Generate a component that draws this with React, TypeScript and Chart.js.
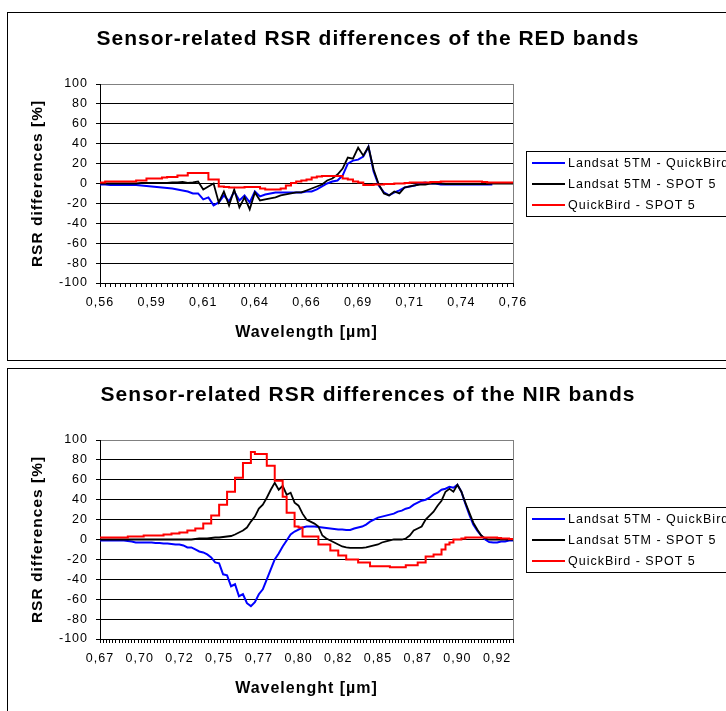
import React, { useEffect, useRef } from 'react';
import { Chart, registerables } from 'chart.js';

Chart.register(...registerables);

const FONT = "'Liberation Sans', Arial, Helvetica, sans-serif";

const SERIES_NAMES = ['Landsat 5TM - QuickBird', 'Landsat 5TM - SPOT 5', 'QuickBird - SPOT 5'];
const SERIES_COLORS = ['#0000FF', '#000000', '#FF0000'];
const Y_TITLE = 'RSR differences [%]';

// ---------------- RED bands ----------------
const RED_TITLE = 'Sensor-related RSR differences of the RED bands';
const RED_X_TITLE = 'Wavelength [µm]';
const RED_TICK_LABELS = ['0,56', '0,59', '0,61', '0,64', '0,66', '0,69', '0,71', '0,74', '0,76'];
const RED_WAVELENGTHS = [
  0.5600, 0.5625, 0.5650, 0.5675, 0.5700, 0.5725, 0.5750, 0.5775, 0.5800, 0.5825,
  0.5850, 0.5875, 0.5900, 0.5925, 0.5950, 0.5975, 0.6000, 0.6025, 0.6050, 0.6075,
  0.6100, 0.6125, 0.6150, 0.6175, 0.6200, 0.6225, 0.6250, 0.6275, 0.6300, 0.6325,
  0.6350, 0.6375, 0.6400, 0.6425, 0.6450, 0.6475, 0.6500, 0.6525, 0.6550, 0.6575,
  0.6600, 0.6625, 0.6650, 0.6675, 0.6700, 0.6725, 0.6750, 0.6775, 0.6800, 0.6825,
  0.6850, 0.6875, 0.6900, 0.6925, 0.6950, 0.6975, 0.7000, 0.7025, 0.7050, 0.7075,
  0.7100, 0.7125, 0.7150, 0.7175, 0.7200, 0.7225, 0.7250, 0.7275, 0.7300, 0.7325,
  0.7350, 0.7375, 0.7400, 0.7425, 0.7450, 0.7475, 0.7500, 0.7525, 0.7550, 0.7575,
  0.7600,
];
const RED_L5_QB = [
  -1, -1, -1.5, -1.5, -1.5, -1.5, -1.5, -1.5, -2, -2.5,
  -3, -3.5, -4, -4.5, -5, -6, -7, -8, -10, -10,
  -16, -14, -22, -19, -12, -18, -8, -17, -12, -19,
  -8, -13, -11, -10, -9, -9, -9, -9, -9, -9,
  -8, -8, -6, -3, 0, 2, 3, 8, 20, 23,
  24, 27, 37, 12, -2, -9, -12, -9, -7, -4,
  -3, -2, 0, 1, 0, 0, -1, -1, -1, -1,
  -1, -1, -1, -1, -1, -1, -1, null, null, null,
  null,
];
const RED_L5_SPOT = [
  0, 0, 0, 0, 0, 0, 0, 0, 0.5, 0.5,
  0.5, 0.5, 0.5, 0.5, 1, 1, 1.5, 0.5, 1, 2,
  -6, -3, 0, -19, -8, -22, -6, -24, -14, -26,
  -9, -17, -16, -15, -14, -12, -11, -10, -9, -9,
  -7, -5, -3, -1, 3, 5, 9, 15, 26, 25,
  36, 28, 37, 14, -1, -10, -12, -8, -10, -4,
  -3, -2, -1, -1, 0, 0, 0, -0.5, -0.5, -0.5,
  -0.5, -0.5, -0.5, -0.5, -0.5, -0.5, 0, 0, 0, 0,
  0,
];
const RED_QB_SPOT = [
  1, 1, 2, 2, 2, 2, 2, 2, 3, 3,
  5, 5, 5, 6, 6.5, 6.5, 8, 8, 10.5, 10.5,
  10.5, 10.5, 4, 4, -3, -3.5, -4, -4, -4, -3.5,
  -3.5, -3.5, -5, -6, -6, -6, -5, -2, 0.5, 2,
  3, 4, 6, 7, 7.5, 7.5, 7.5, 7.5, 5, 4,
  2, 1, -1.5, -1.5, -1, -1, -0.5, -0.5, 0, 0,
  0.5, 1, 1, 1, 1, 1.5, 1.5, 2, 2, 2,
  2, 2, 2, 2, 2, 1.5, 1, 1, 1, 1,
  1,
];

// ---------------- NIR bands ----------------
const NIR_TITLE = 'Sensor-related RSR differences of the NIR bands';
const NIR_X_TITLE = 'Wavelenght [µm]';
const NIR_TICK_LABELS = ['0,67', '0,70', '0,72', '0,75', '0,77', '0,80', '0,82', '0,85', '0,87', '0,90', '0,92'];
const NIR_WAVELENGTHS = [
  0.6700, 0.6725, 0.6750, 0.6775, 0.6800, 0.6825, 0.6850, 0.6875, 0.6900, 0.6925,
  0.6950, 0.6975, 0.7000, 0.7025, 0.7050, 0.7075, 0.7100, 0.7125, 0.7150, 0.7175,
  0.7200, 0.7225, 0.7250, 0.7275, 0.7300, 0.7325, 0.7350, 0.7375, 0.7400, 0.7425,
  0.7450, 0.7475, 0.7500, 0.7525, 0.7550, 0.7575, 0.7600, 0.7625, 0.7650, 0.7675,
  0.7700, 0.7725, 0.7750, 0.7775, 0.7800, 0.7825, 0.7850, 0.7875, 0.7900, 0.7925,
  0.7950, 0.7975, 0.8000, 0.8025, 0.8050, 0.8075, 0.8100, 0.8125, 0.8150, 0.8175,
  0.8200, 0.8225, 0.8250, 0.8275, 0.8300, 0.8325, 0.8350, 0.8375, 0.8400, 0.8425,
  0.8450, 0.8475, 0.8500, 0.8525, 0.8550, 0.8575, 0.8600, 0.8625, 0.8650, 0.8675,
  0.8700, 0.8725, 0.8750, 0.8775, 0.8800, 0.8825, 0.8850, 0.8875, 0.8900, 0.8925,
  0.8950, 0.8975, 0.9000, 0.9025, 0.9050, 0.9075, 0.9100, 0.9125, 0.9150, 0.9175,
  0.9200, 0.9225, 0.9250, 0.9275, 0.9300,
];
const NIR_L5_QB = [
  -1, -1, -1, -1, -1, -1, -1, -1.5, -2, -3,
  -3, -3, -3, -3, -3.5, -3.5, -4, -4, -4.5, -5,
  -5, -6, -8, -8, -10, -12, -13, -15, -18, -23,
  -24, -35, -36, -47, -45, -57, -55, -64, -67, -63,
  -55, -50, -40, -30, -20, -14, -7, -1, 5, 8,
  10, 12, 13, 13, 13, 12.5, 12, 11.5, 11, 10.5,
  10, 10, 9.5, 9.5, 11, 12, 13, 15, 18, 20,
  22, 23, 24, 25, 26, 28, 29, 31, 32, 35,
  37, 39, 40, 42, 45, 47, 50, 51, 53, 52,
  55, 48, 36, 25, 15, 9, 4, 0, -2.5, -3,
  -3, -2, -2, -1, -1,
];
const NIR_L5_SPOT = [
  0, 0, 0, 0, 0, 0, 0, 0, 0, 0,
  0, 0, 0, 0, 0, 0, 0, 0, 0, 0,
  0, 0, 0, 0, 0.5, 1, 1, 1, 1.5, 2,
  2, 2.5, 3, 3.5, 5, 7, 9, 12, 18, 23,
  31, 35, 42, 50, 57, 50, 54, 45, 47, 37,
  34, 26, 20, 18, 16, 13, 4, 1, -1, -3,
  -5, -7, -8, -8.5, -8.5, -8.5, -8.5, -8, -7, -6,
  -5, -3, -2, -1, 0, 0, 0, 1, 4, 9,
  11, 13, 20, 24, 28, 34, 39, 48, 51, 48,
  55, 48, 37, 27, 17, 10, 4, 1, 0, 0,
  0, 0, 0, 0, 0,
];
const NIR_QB_SPOT = [
  2, 2, 2, 2, 2, 2, 2, 2, 3, 3,
  3, 3, 4, 4, 4, 4, 4, 5, 5, 6,
  6, 7, 7, 9, 9, 11, 11, 16, 16, 24,
  24, 35, 35, 48, 48, 62, 62, 77, 77, 88,
  86, 86, 86, 74, 74, 59, 59, 43, 27, 27,
  13, 12, 3, 3, 3, 3, -5, -5, -5, -11,
  -11, -16, -16, -20, -20, -20, -23, -23, -23, -27,
  -27, -27, -27, -27, -28, -28, -28, -28, -26, -26,
  -26, -23, -23, -17, -17, -15, -15, -10, -5, -3,
  0, 0, 1, 2, 2, 2, 2, 2, 2, 2,
  2, 1.5, 1, 1, 0.5,
];

// Axis tick construction (units of 1e-4 µm): minor tick marks plus labelled positions
function makeTicks(minU: number, maxU: number, minorU: number, labelU: number, labels: string[]) {
  const map = new Map<number, { mark: boolean; text: string }>();
  for (let u = minU; u <= maxU; u += minorU) map.set(u, { mark: true, text: '' });
  labels.forEach((t, k) => {
    const u = minU + k * labelU;
    const e = map.get(u);
    if (e) e.text = t;
    else map.set(u, { mark: false, text: t });
  });
  return [...map.keys()].sort((a, b) => a - b).map((u) => ({ value: u / 10000, ...map.get(u)! }));
}

type Cfg = {
  title: string;
  xTitle: string;
  wavelengths: number[];
  series: (number | null)[][];
  xMin: number;
  xMax: number;
  ticks: { value: number; mark: boolean; text: string }[];
};

const RED_CFG: Cfg = {
  title: RED_TITLE,
  xTitle: RED_X_TITLE,
  wavelengths: RED_WAVELENGTHS,
  series: [RED_L5_QB, RED_L5_SPOT, RED_QB_SPOT],
  xMin: 0.56,
  xMax: 0.76,
  ticks: makeTicks(5600, 7600, 25, 250, RED_TICK_LABELS),
};

const NIR_CFG: Cfg = {
  title: NIR_TITLE,
  xTitle: NIR_X_TITLE,
  wavelengths: NIR_WAVELENGTHS,
  series: [NIR_L5_QB, NIR_L5_SPOT, NIR_QB_SPOT],
  xMin: 0.67,
  xMax: 0.93,
  ticks: makeTicks(6700, 9300, 20, 250, NIR_TICK_LABELS),
};

const decorPlugin = {
  id: 'excelDecor',
  beforeUpdate(chart: any) {
    chart.ctx.letterSpacing = '1px';
  },
  beforeDraw(chart: any) {
    const { ctx, width, height } = chart;
    ctx.letterSpacing = '1px';
    ctx.save();
    ctx.fillStyle = '#ffffff';
    ctx.fillRect(0, 0, width, height);
    ctx.restore();
  },
  afterDraw(chart: any) {
    const { ctx, chartArea } = chart;
    const cy = Math.round((chartArea.top + chartArea.bottom) / 2);
    const left = Math.round(chartArea.right + 13);
    ctx.save();
    ctx.letterSpacing = '1px';
    ctx.strokeStyle = '#000';
    ctx.lineWidth = 1;
    ctx.strokeRect(left + 0.5, cy - 32.5, 320, 65);
    chart.data.datasets.forEach((ds: any, i: number) => {
      const y = cy + (i - 1) * 21;
      ctx.strokeStyle = ds.borderColor;
      ctx.lineWidth = 2;
      ctx.beginPath();
      ctx.moveTo(left + 6, y);
      ctx.lineTo(left + 39, y);
      ctx.stroke();
      ctx.fillStyle = '#000';
      ctx.font = `12.5px ${FONT}`;
      ctx.textAlign = 'left';
      ctx.textBaseline = 'middle';
      ctx.fillText(ds.label, left + 42, y + 0.5);
    });
    ctx.restore();
  },
};

function makeConfig(p: Cfg): any {
  const orders = [3, 2, 1];
  const datasets = p.series.map((vals, si) => ({
    label: SERIES_NAMES[si],
    data: p.wavelengths.map((w, i) => ({ x: w, y: vals[i] })),
    borderColor: SERIES_COLORS[si],
    backgroundColor: SERIES_COLORS[si],
    borderWidth: si === 1 ? 1.8 : 2,
    pointRadius: 0,
    pointHoverRadius: 0,
    tension: 0,
    fill: false,
    stepped: si === 2 ? 'after' : false,
    order: orders[si],
    xAxisID: 'x',
    yAxisID: 'y',
  }));
  const tickFont = { family: FONT, size: 12.5 };
  return {
    type: 'line',
    data: { datasets },
    plugins: [decorPlugin],
    options: {
      responsive: false,
      animation: false,
      events: [],
      layout: { padding: { left: 0, right: 20, top: 0, bottom: 0 } },
      plugins: {
        legend: { display: false },
        tooltip: { enabled: false },
        title: {
          display: true,
          text: p.title,
          color: '#000',
          font: { family: FONT, size: 21, weight: 'bold', lineHeight: '24px' },
          padding: { top: 14, bottom: 33 },
        },
      },
      scales: {
        x: {
          type: 'linear',
          position: 'bottom',
          min: p.xMin,
          max: p.xMax,
          afterBuildTicks: (s: any) => {
            s.ticks = p.ticks.map((t) => ({ ...t }));
          },
          afterFit: (s: any) => {
            s.height = 77;
          },
          grid: {
            drawOnChartArea: true,
            drawTicks: true,
            tickLength: 4,
            lineWidth: 1,
            color: (c: any) =>
              c.tick && Math.abs(c.tick.value - p.xMax) < 1e-9 ? '#808080' : 'rgba(0,0,0,0)',
            tickColor: (c: any) => (c.tick && c.tick.mark ? '#000' : 'rgba(0,0,0,0)'),
          },
          border: { display: true, color: '#000', width: 1 },
          ticks: {
            autoSkip: false,
            maxRotation: 0,
            minRotation: 0,
            padding: 8,
            color: '#000',
            font: tickFont,
            callback: (_v: any, i: number, ts: any[]) => (ts[i] && ts[i].text) || '',
          },
          title: {
            display: true,
            text: p.xTitle,
            color: '#000',
            font: { family: FONT, size: 16, weight: 'bold' },
            padding: { top: 0, bottom: 18 },
          },
        },
        y: {
          type: 'linear',
          position: 'left',
          min: -100,
          max: 100,
          afterFit: (s: any) => {
            s.width = 92;
          },
          grid: {
            drawOnChartArea: true,
            tickLength: 4,
            lineWidth: 1,
            color: (c: any) => (c.tick && c.tick.value === 100 ? '#808080' : '#000'),
            tickColor: '#000',
          },
          border: { display: true, color: '#000', width: 1 },
          ticks: { stepSize: 20, padding: 8, color: '#000', font: tickFont },
          title: {
            display: true,
            text: Y_TITLE,
            color: '#000',
            font: { family: FONT, size: 15.5, weight: 'bold' },
            padding: { top: 20, bottom: 0 },
          },
        },
        yR: {
          type: 'linear',
          position: 'right',
          display: true,
          min: 0,
          max: 1,
          grid: { display: false, drawTicks: false },
          border: { display: false },
          ticks: { display: false },
          afterFit: (s: any) => {
            s.width = 215;
          },
        },
      },
    },
  };
}

function RsrChart({ cfg }: { cfg: Cfg }) {
  const ref = useRef<HTMLCanvasElement>(null);
  useEffect(() => {
    const chart = new Chart(ref.current as HTMLCanvasElement, makeConfig(cfg));
    return () => chart.destroy();
  }, [cfg]);
  return <canvas ref={ref} width={740} height={347} style={{ display: 'block' }} />;
}

export default function App() {
  const box: React.CSSProperties = {
    position: 'absolute',
    left: 7,
    width: 760,
    height: 347,
    border: '1px solid #000',
    background: '#fff',
  };
  return (
    <div
      style={{
        position: 'absolute',
        left: 0,
        top: 0,
        width: 726,
        height: 711,
        overflow: 'hidden',
        background: '#fff',
      }}
    >
      <div style={{ ...box, top: 12 }}>
        <RsrChart cfg={RED_CFG} />
      </div>
      <div style={{ ...box, top: 368 }}>
        <RsrChart cfg={NIR_CFG} />
      </div>
    </div>
  );
}
